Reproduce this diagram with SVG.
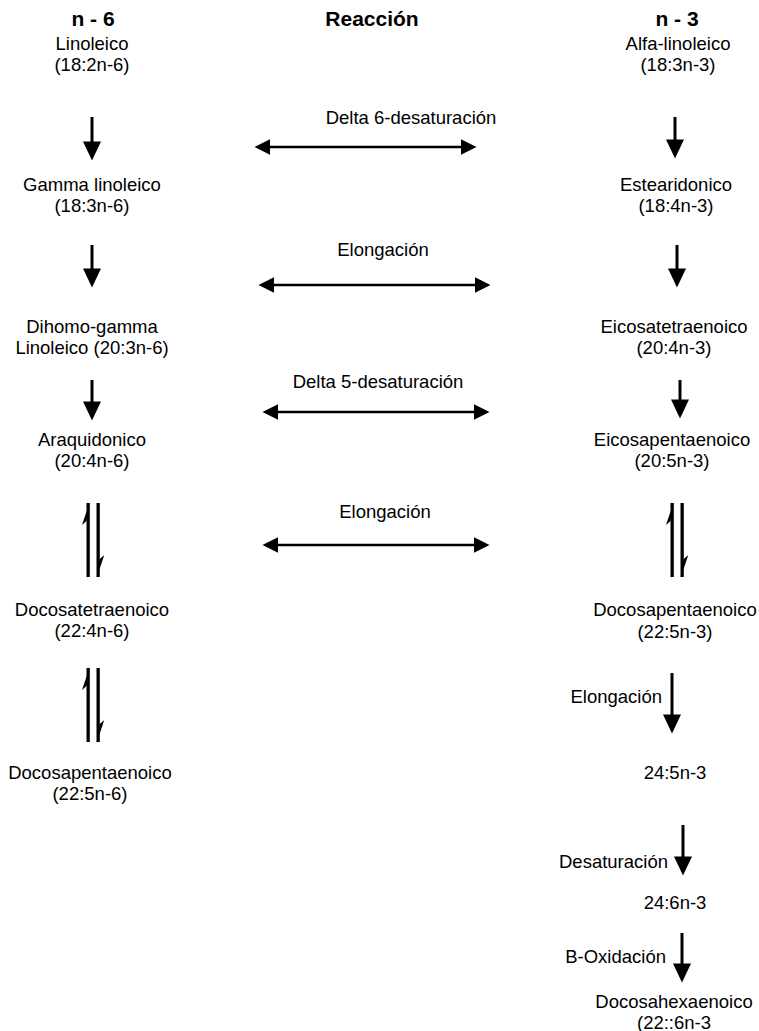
<svg xmlns="http://www.w3.org/2000/svg" width="759" height="1031" viewBox="0 0 759 1031">
  <defs>
    <style>
      .t { font-family: "Liberation Sans", Arial, sans-serif; font-size: 18.5px; fill: #000; text-anchor: middle; }
      .h { font-family: "Liberation Sans", Arial, sans-serif; font-size: 21px; font-weight: bold; fill: #000; text-anchor: middle; }
      .r { text-anchor: end; }
      .hz { stroke: #000; stroke-width: 2.6; fill: none; marker-start: url(#hs); marker-end: url(#he); }
      .vt { stroke: #000; stroke-width: 3; fill: none; marker-end: url(#ve); }
      .bb { fill: #000; }
    </style>
    <marker id="ve" markerUnits="userSpaceOnUse" markerWidth="20" markerHeight="18" viewBox="0 0 18 17" refX="8" refY="8.5" orient="auto">
      <path d="M0,0 L18,8.5 L0,17 z" fill="#000"/>
    </marker>
    <marker id="he" markerUnits="userSpaceOnUse" markerWidth="16" markerHeight="16" viewBox="0 0 15 15" refX="7" refY="7.5" orient="auto">
      <path d="M0,0 L15,7.5 L0,15 z" fill="#000"/>
    </marker>
    <marker id="hs" markerUnits="userSpaceOnUse" markerWidth="16" markerHeight="16" viewBox="0 0 15 15" refX="8" refY="7.5" orient="auto">
      <path d="M15,0 L0,7.5 L15,15 z" fill="#000"/>
    </marker>
    <g id="eq">
      <rect x="-5.5" y="0" width="3.3" height="74" fill="#000"/>
      <path d="M-2.2,-1 L-10,22 L-5.5,18 z" fill="#000"/>
      <rect x="4.5" y="0" width="3.3" height="74" fill="#000"/>
      <path d="M4.5,75 L12.3,52 L7.8,56 z" fill="#000"/>
    </g>
  </defs>

  <rect x="0" y="0" width="759" height="1031" fill="#fff"/>

  <g id="headers">
    <text class="h" x="93" y="26">n - 6</text>
    <text class="h" x="372" y="26">Reacción</text>
    <text class="h" x="677" y="26">n - 3</text>
  </g>

  <g id="n6-linoleico"><text class="t" x="92" y="50">Linoleico</text><text class="t" x="92" y="71">(18:2n-6)</text></g>
  <g id="n6-gamma"><text class="t" x="92" y="191">Gamma linoleico</text><text class="t" x="92" y="212">(18:3n-6)</text></g>
  <g id="n6-dihomo"><text class="t" x="92" y="333">Dihomo-gamma</text><text class="t" x="92" y="354">Linoleico (20:3n-6)</text></g>
  <g id="n6-araquidonico"><text class="t" x="92" y="446">Araquidonico</text><text class="t" x="92" y="467">(20:4n-6)</text></g>
  <g id="n6-docosatetraenoico"><text class="t" x="92" y="616">Docosatetraenoico</text><text class="t" x="92" y="637">(22:4n-6)</text></g>
  <g id="n6-docosapentaenoico"><text class="t" x="90" y="779">Docosapentaenoico</text><text class="t" x="90" y="800">(22:5n-6)</text></g>

  <g id="n3-alfa"><text class="t" x="678" y="50">Alfa-linoleico</text><text class="t" x="678" y="71">(18:3n-3)</text></g>
  <g id="n3-estearidonico"><text class="t" x="676" y="191">Estearidonico</text><text class="t" x="676" y="212">(18:4n-3)</text></g>
  <g id="n3-eicosatetraenoico"><text class="t" x="674" y="333">Eicosatetraenoico</text><text class="t" x="674" y="354">(20:4n-3)</text></g>
  <g id="n3-eicosapentaenoico"><text class="t" x="672" y="446">Eicosapentaenoico</text><text class="t" x="672" y="467">(20:5n-3)</text></g>
  <g id="n3-docosapentaenoico"><text class="t" x="675" y="616">Docosapentaenoico</text><text class="t" x="675" y="638">(22:5n-3)</text></g>
  <g id="n3-24-5"><text class="t" x="675" y="779">24:5n-3</text></g>
  <g id="n3-24-6"><text class="t" x="675" y="909">24:6n-3</text></g>
  <g id="n3-docosahexaenoico"><text class="t" x="674" y="1008">Docosahexaenoico</text><text class="t" x="674" y="1029">(22::6n-3</text></g>

  <g id="connectors">
    <text class="t" x="411" y="124">Delta 6-desaturación</text>
    <line class="hz" x1="263" y1="147" x2="468" y2="147"/>
    <text class="t" x="383" y="256">Elongación</text>
    <line class="hz" x1="267" y1="285" x2="482" y2="285"/>
    <text class="t" x="378" y="388">Delta 5-desaturación</text>
    <line class="hz" x1="271" y1="412" x2="481" y2="412"/>
    <text class="t" x="385" y="518">Elongación</text>
    <line class="hz" x1="271" y1="545" x2="481" y2="545"/>

    <line class="vt" x1="92" y1="117" x2="92" y2="150"/>
    <line class="vt" x1="92" y1="245" x2="92" y2="277"/>
    <line class="vt" x1="92" y1="380" x2="92" y2="410"/>
    <use href="#eq" x="92" y="503"/>
    <use href="#eq" x="92" y="668"/>

    <line class="vt" x1="675" y1="117" x2="675" y2="148"/>
    <line class="vt" x1="677" y1="245" x2="677" y2="277"/>
    <line class="vt" x1="680" y1="380" x2="680" y2="408"/>
    <use href="#eq" x="676" y="503"/>
    <line class="vt" x1="672" y1="673" x2="672" y2="723"/>
    <text class="t r" x="662" y="703">Elongación</text>
    <line class="vt" x1="683" y1="825" x2="683" y2="865"/>
    <text class="t r" x="668" y="868">Desaturación</text>
    <line class="vt" x1="682" y1="933" x2="682" y2="972"/>
    <text class="t r" x="666" y="963">B-Oxidación</text>
  </g>
</svg>
